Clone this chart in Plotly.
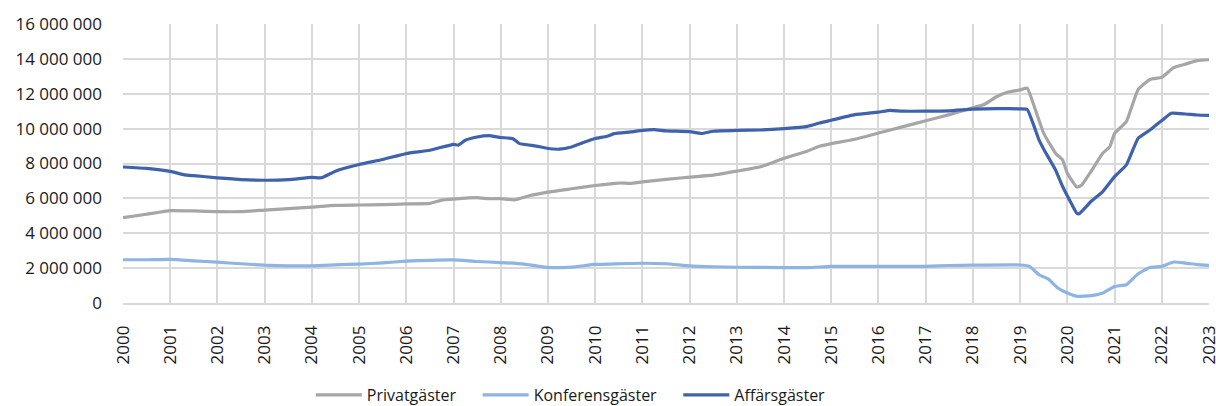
import plotly.graph_objects as go

# --- Data (values in millions of guests) ---
years = list(range(2000, 2024))

privat_t = [2000.0, 2000.5, 2001.0, 2001.5, 2002.0, 2002.5, 2003.0, 2003.5, 2004.0, 2004.5,
            2005.0, 2005.5, 2006.0, 2006.5, 2006.75, 2007.0, 2007.5, 2007.75, 2008.0, 2008.3,
            2008.6, 2009.0, 2009.5, 2010.0, 2010.5, 2010.75, 2011.0, 2011.5, 2012.0, 2012.5,
            2013.0, 2013.5, 2014.0, 2014.5, 2014.75, 2015.0, 2015.5, 2016.0, 2016.5, 2017.0,
            2017.5, 2018.0, 2018.25, 2018.5, 2018.75, 2019.0, 2019.15, 2019.3, 2019.5, 2019.75,
            2019.9, 2020.0, 2020.2, 2020.3, 2020.5, 2020.75, 2020.9, 2021.0, 2021.25, 2021.5,
            2021.75, 2022.0, 2022.25, 2022.5, 2022.75, 2023.0]
privat_v = [4.90, 5.09, 5.30, 5.28, 5.24, 5.24, 5.33, 5.41, 5.50, 5.60,
            5.62, 5.64, 5.68, 5.71, 5.90, 5.96, 6.04, 5.98, 5.98, 5.92,
            6.15, 6.36, 6.55, 6.74, 6.88, 6.86, 6.95, 7.09, 7.22, 7.33,
            7.56, 7.81, 8.30, 8.72, 8.99, 9.14, 9.39, 9.75, 10.10, 10.45,
            10.80, 11.20, 11.40, 11.83, 12.10, 12.22, 12.32, 11.26, 9.73, 8.59,
            8.20, 7.44, 6.65, 6.75, 7.54, 8.59, 8.97, 9.73, 10.40, 12.25,
            12.82, 12.94, 13.50, 13.70, 13.90, 13.95]

konf_t = [2000.0, 2000.5, 2001.0, 2001.5, 2002.0, 2002.5, 2003.0, 2003.5, 2004.0, 2004.5,
          2005.0, 2005.5, 2006.0, 2006.5, 2007.0, 2007.5, 2008.0, 2008.5, 2008.75, 2009.0,
          2009.5, 2010.0, 2010.5, 2011.0, 2011.5, 2012.0, 2012.5, 2013.0, 2014.0, 2014.5,
          2015.0, 2016.0, 2016.5, 2017.0, 2017.5, 2018.0, 2019.0, 2019.2, 2019.4, 2019.6,
          2019.8, 2020.0, 2020.2, 2020.5, 2020.75, 2021.0, 2021.25, 2021.5, 2021.75, 2022.0,
          2022.25, 2022.5, 2022.75, 2023.0]
konf_v = [2.48, 2.48, 2.50, 2.42, 2.34, 2.25, 2.17, 2.13, 2.13, 2.19,
          2.23, 2.30, 2.40, 2.45, 2.47, 2.38, 2.32, 2.23, 2.13, 2.04,
          2.06, 2.21, 2.25, 2.28, 2.25, 2.13, 2.08, 2.05, 2.03, 2.03,
          2.10, 2.10, 2.10, 2.10, 2.15, 2.17, 2.18, 2.10, 1.62, 1.37,
          0.86, 0.57, 0.38, 0.42, 0.57, 0.95, 1.05, 1.68, 2.04, 2.10,
          2.35, 2.29, 2.20, 2.16]

affar_t = [2000.0, 2000.5, 2001.0, 2001.3, 2001.5, 2002.0, 2002.5, 2003.0, 2003.5, 2004.0,
           2004.2, 2004.5, 2005.0, 2005.5, 2006.0, 2006.5, 2007.0, 2007.1, 2007.25, 2007.5,
           2007.75, 2008.0, 2008.25, 2008.4, 2008.75, 2009.0, 2009.25, 2009.5, 2009.75, 2010.0,
           2010.25, 2010.4, 2010.75, 2011.0, 2011.25, 2011.5, 2012.0, 2012.25, 2012.5, 2013.0,
           2013.5, 2014.0, 2014.5, 2014.75, 2015.0, 2015.5, 2016.0, 2016.25, 2016.5, 2017.0,
           2017.5, 2018.0, 2018.5, 2019.0, 2019.15, 2019.3, 2019.4, 2019.5, 2019.75, 2019.9,
           2020.1, 2020.2, 2020.25, 2020.5, 2020.75, 2021.0, 2021.25, 2021.5, 2021.75, 2022.0,
           2022.2, 2022.5, 2022.75, 2023.0]
affar_v = [7.80, 7.72, 7.55, 7.35, 7.30, 7.18, 7.08, 7.04, 7.07, 7.20,
           7.18, 7.56, 7.94, 8.23, 8.57, 8.76, 9.10, 9.05, 9.33, 9.52,
           9.60, 9.49, 9.43, 9.14, 9.00, 8.86, 8.82, 8.95, 9.20, 9.43,
           9.56, 9.71, 9.81, 9.90, 9.94, 9.87, 9.83, 9.72, 9.85, 9.90,
           9.92, 10.00, 10.13, 10.32, 10.48, 10.80, 10.95, 11.05, 11.00, 11.00,
           11.02, 11.12, 11.15, 11.13, 11.10, 10.10, 9.35, 8.82, 7.63, 6.68,
           5.63, 5.15, 5.12, 5.82, 6.39, 7.25, 7.92, 9.45, 9.92, 10.46,
           10.88, 10.84, 10.78, 10.76]

series = [
    ("Privatgäster", privat_t, privat_v, "#A6A6A6"),
    ("Konferensgäster", konf_t, konf_v, "#8DB4E2"),
    ("Affärsgäster", affar_t, affar_v, "#3F62AD"),
]

y_ticks = list(range(0, 16000001, 2000000))
y_labels = ["{:,}".format(v).replace(",", " ") for v in y_ticks]

fig = go.Figure()
for name, t, v, color in series:
    fig.add_trace(go.Scatter(
        x=t, y=[val * 1_000_000 for val in v], name=name + "\u00a0" * 4, mode="lines",
        line=dict(color=color, width=3.2, shape="spline", smoothing=0.4),
    ))

font_family = "'Open Sans', 'Noto Sans', sans-serif"
fig.update_layout(
    width=1216, height=406,
    margin=dict(l=123, r=7, t=24, b=103, autoexpand=False),
    paper_bgcolor="white", plot_bgcolor="white",
    font=dict(family=font_family, size=17, color="#1a1a1a"),
    showlegend=True,
    legend=dict(orientation="h", xref="container", x=0.476, xanchor="center",
                yref="paper", y=-0.33, yanchor="middle",
                font=dict(size=16), traceorder="normal", itemwidth=46),
)
fig.update_xaxes(
    range=[2000, 2023], tickmode="array", tickvals=years, ticktext=[str(y) for y in years],
    tickangle=-90, showgrid=True, gridcolor="#D9D9D9", gridwidth=1.5,
    zeroline=False, showline=True, linecolor="#D9D9D9", linewidth=1.5,
    ticks="", tickfont=dict(size=17), ticklabelstandoff=14, ticklabeloverflow="allow",
)
fig.update_yaxes(
    range=[0, 16000000], tickmode="array", tickvals=y_ticks, ticktext=y_labels,
    showgrid=True, gridcolor="#D9D9D9", gridwidth=1.5, zeroline=False,
    ticks="", ticklabelstandoff=20, tickfont=dict(size=17), ticklabeloverflow="allow",
)

fig.write_html(
    "out.html",
    config={"displayModeBar": False},
    post_script="document.body.style.margin='0';document.body.style.overflow='hidden';",
)
